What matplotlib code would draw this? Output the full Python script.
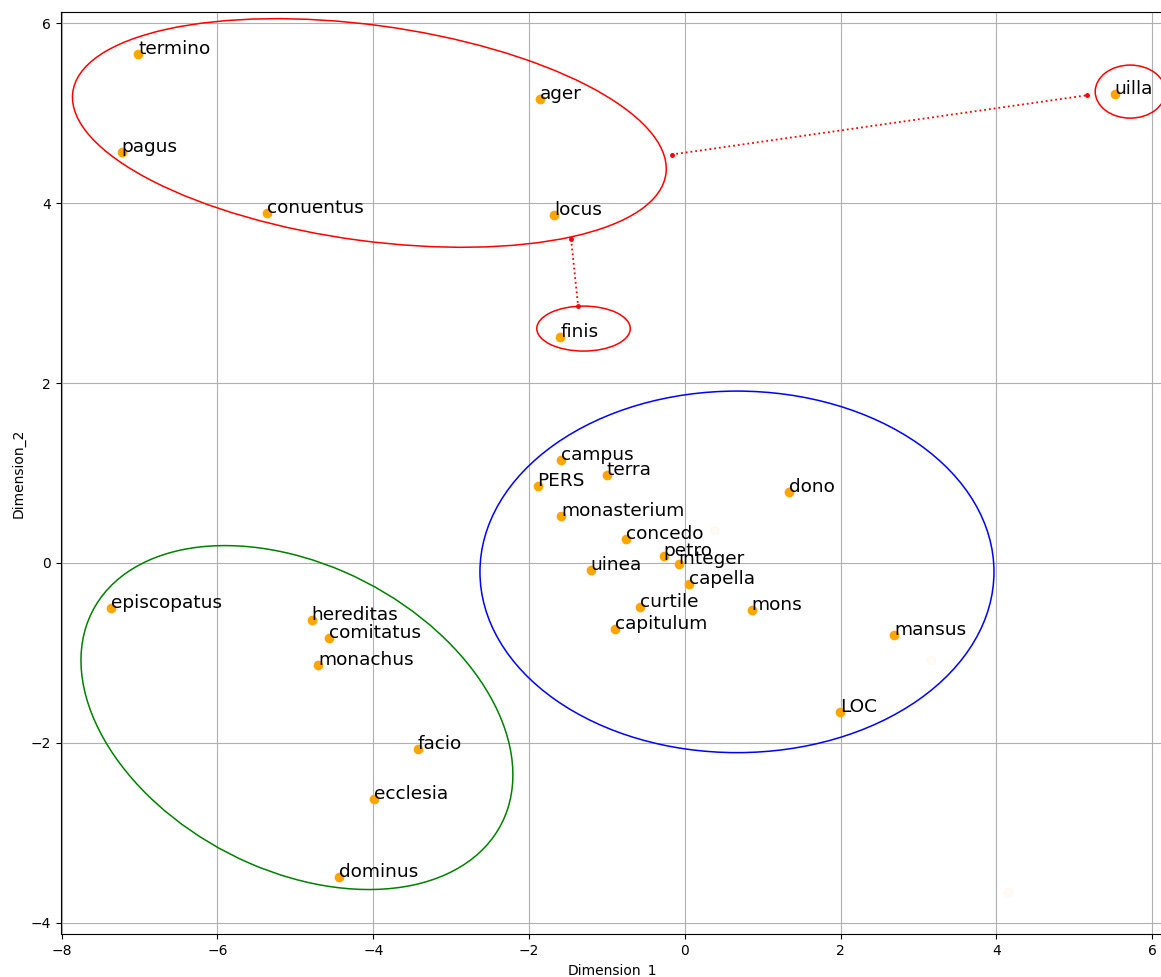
import matplotlib
matplotlib.use("Agg")
import matplotlib.pyplot as plt
from matplotlib.patches import Ellipse

# words and their 2-D coordinates
words = ["termino", "pagus", "conuentus", "ager", "locus", "finis", "uilla",
         "campus", "terra", "PERS", "monasterium", "concedo", "petro", "integer",
         "uinea", "capella", "curtile", "capitulum", "mons", "dono", "mansus", "LOC",
         "episcopatus", "hereditas", "comitatus", "monachus", "facio", "ecclesia", "dominus"]
dim_1 = [-7.02, -7.23, -5.37, -1.86, -1.68, -1.60, 5.52,
         -1.59, -1.005, -1.89, -1.59, -0.76, -0.27, -0.08,
         -1.21, 0.06, -0.58, -0.90, 0.86, 1.34, 2.69, 1.99,
         -7.37, -4.79, -4.57, -4.71, -3.43, -3.99, -4.44]
dim_2 = [5.66, 4.57, 3.89, 5.16, 3.87, 2.51, 5.21,
         1.14, 0.98, 0.85, 0.52, 0.27, 0.08, -0.01,
         -0.08, -0.24, -0.49, -0.73, -0.52, 0.79, -0.80, -1.66,
         -0.50, -0.64, -0.83, -1.14, -2.07, -2.62, -3.49]

# barely visible points (labels unreadable)
faint_1 = [4.15, 0.37, 3.16]
faint_2 = [-3.66, 0.37, -1.08]

# clusters: centre x, centre y, width, height, angle, colour
clusters = [
    (-4.05, 4.78, 7.67, 2.40, -6.6, "red"),
    (-1.30, 2.605, 1.20, 0.50, 0, "red"),
    (5.72, 5.24, 0.90, 0.59, 0, "red"),
    (0.67, -0.10, 6.60, 4.02, 0, "blue"),
    (-4.98, -1.72, 5.78, 3.46, -20.6, "green"),
]

# links between clusters
links = [
    ([-0.17, 5.17], [4.54, 5.20]),
    ([-1.46, -1.37], [3.60, 2.86]),
]


def main():
    fig = plt.figure(figsize=(11.61, 9.77), dpi=100)
    ax = fig.add_axes([0.0525, 0.0437, 0.9492, 0.944])

    ax.scatter(dim_1, dim_2, color="orange", s=36, zorder=3)
    ax.scatter(faint_1, faint_2, color="orange", s=36, alpha=0.04, zorder=3)
    for w, x, y in zip(words, dim_1, dim_2):
        ax.text(x, y, w, fontsize=13.3, zorder=4)

    for cx, cy, w, h, a, c in clusters:
        ax.add_patch(Ellipse((cx, cy), w, h, angle=a, fill=False, edgecolor=c, lw=1.1, zorder=2))

    for xs, ys in links:
        ax.plot(xs, ys, color="red", linestyle=":", lw=1.3, marker="o", markersize=2.5, zorder=2)

    ax.set_xlim(-8.01, 6.14)
    ax.set_ylim(-4.13, 6.125)
    ax.grid(True)
    ax.set_axisbelow(True)
    ax.set_xlabel("Dimension_1")
    ax.set_ylabel("Dimension_2")

    fig.savefig("out.png", dpi=100)


if __name__ == "__main__":
    main()
